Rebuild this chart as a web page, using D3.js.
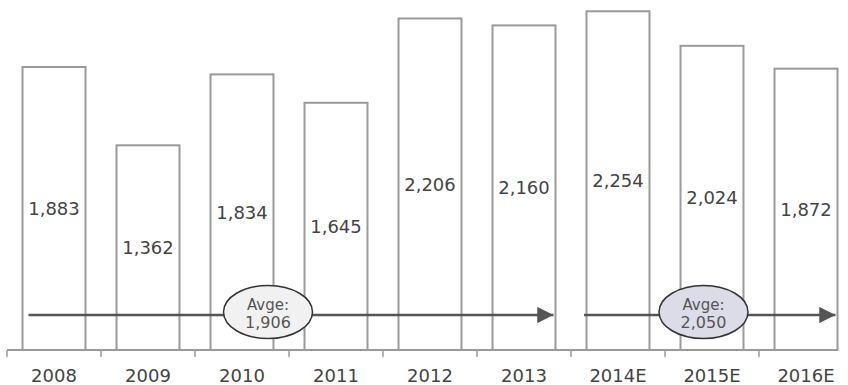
<!DOCTYPE html>
<html>
<head>
<meta charset="utf-8">
<script src="https://cdn.jsdelivr.net/npm/d3@7"></script>
<style>
  body { margin: 0; background: #fff; }
  svg { display: block; font-family: Verdana, "DejaVu Sans", sans-serif; }
</style>
</head>
<body>
<svg></svg>
<script>
const years  = ["2008", "2009", "2010", "2011", "2012", "2013", "2014E", "2015E", "2016E"];
const values = [1883, 1362, 1834, 1645, 2206, 2160, 2254, 2024, 1872];

// average arrows: first / last category covered, where the bubble sits, label
const avgFrom   = ["2008", "2014E"];
const avgTo     = ["2013", "2016E"];
const avgBubble = ["2010", "2015E"];
const avgLabels = ["1,906", "2,050"];
const avgFills  = ["#f1f1f1", "#dcdce8"];

const width  = 848,
      height = 385,
      margin = {top: 0, bottom: 35, left: 7, right: 0},
      avgStartShift = [6, -2.5],
      avgShift = [26, -8.5],
      svg = d3.select("svg").attr("width", width).attr("height", height);

const base = height - margin.bottom;

const x = d3.scaleBand()
  .domain(years)
  .range([margin.left, margin.left + 94 * years.length])
  .paddingInner(0.33)
  .paddingOuter(0.165);

const y = d3.scaleLinear()
  .domain([0, 2329])
  .range([base, 0]);

const fmt = d3.format(",");

// bars
const bars = svg.append("g").attr("class", "bars")
  .selectAll("g")
  .data(years.map((d, i) => ({year: d, value: values[i]})))
  .join("g");

bars.append("rect")
  .attr("x", d => x(d.year))
  .attr("y", d => y(d.value))
  .attr("width", x.bandwidth())
  .attr("height", d => base - y(d.value))
  .attr("fill", "#fff")
  .attr("stroke", "#9a9a9a")
  .attr("stroke-width", 2);

bars.append("text")
  .attr("x", d => x(d.year) + x.bandwidth() / 2)
  .attr("y", d => (y(d.value) + base) / 2)
  .attr("dy", "0.36em")
  .attr("text-anchor", "middle")
  .attr("font-size", 18)
  .attr("fill", "#444")
  .text(d => fmt(d.value));

// x axis with ticks on band edges
const step = x.step();
const edges = years.map(d => x(d) - x.paddingInner() * step / 2);
const axis = svg.append("g").attr("class", "axis");

axis.append("line")
  .attr("x1", edges[0]).attr("x2", x(years[years.length - 1]) + x.bandwidth())
  .attr("y1", base).attr("y2", base)
  .attr("stroke", "#9a9a9a")
  .attr("stroke-width", 2);

axis.selectAll(".tick")
  .data(edges)
  .join("line")
  .attr("class", "tick")
  .attr("x1", d => d).attr("x2", d => d)
  .attr("y1", base).attr("y2", base + 7)
  .attr("stroke", "#9a9a9a")
  .attr("stroke-width", 1.5);

axis.selectAll(".label")
  .data(years)
  .join("text")
  .attr("class", "label")
  .attr("x", d => x(d) + x.bandwidth() / 2)
  .attr("y", base + 32)
  .attr("text-anchor", "middle")
  .attr("font-size", 18)
  .attr("fill", "#444")
  .text(d => d);

// average arrows
const defs = svg.append("defs");
defs.append("marker")
  .attr("id", "arrow")
  .attr("viewBox", "0 0 10 10")
  .attr("refX", 10).attr("refY", 5)
  .attr("markerWidth", 6.5).attr("markerHeight", 6.5)
  .attr("markerUnits", "strokeWidth")
  .attr("orient", "auto")
  .append("path")
  .attr("d", "M0,0 L10,5 L0,10 Z")
  .attr("fill", "#555");

const arrowY = base - 35;
const avg = svg.append("g").attr("class", "averages");

avgLabels.forEach((label, i) => {
  const x1 = x(avgFrom[i]) + avgStartShift[i];
  const x2 = x(avgTo[i]) + x.bandwidth() - 2;
  avg.append("line")
    .attr("x1", x1).attr("x2", x2)
    .attr("y1", arrowY).attr("y2", arrowY)
    .attr("stroke", "#555")
    .attr("stroke-width", 2.5)
    .attr("marker-end", "url(#arrow)");

  const cx = x(avgBubble[i]) + x.bandwidth() / 2 + avgShift[i];
  avg.append("ellipse")
    .attr("cx", cx).attr("cy", arrowY - 3)
    .attr("rx", 44.5).attr("ry", 26.5)
    .attr("fill", avgFills[i])
    .attr("stroke", "#333")
    .attr("stroke-width", 1.5);

  avg.append("text")
    .attr("x", cx).attr("y", arrowY - 5)
    .attr("text-anchor", "middle")
    .attr("font-size", 15)
    .attr("fill", "#555")
    .text("Avge:");

  avg.append("text")
    .attr("x", cx).attr("y", arrowY + 13)
    .attr("text-anchor", "middle")
    .attr("font-size", 16)
    .attr("fill", "#555")
    .text(label);
});
</script>
</body>
</html>
